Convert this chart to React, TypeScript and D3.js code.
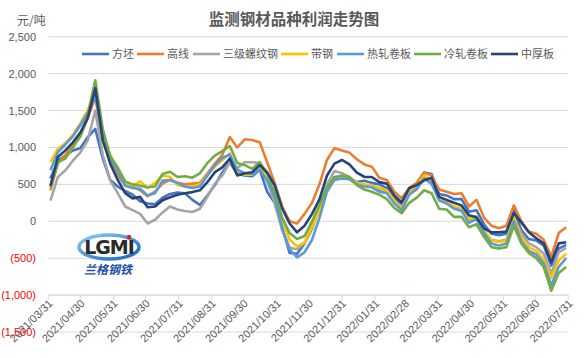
import React from "react";
import * as d3 from "d3";

const W = 587;
const H = 358;

const seriesNames = ["方坯", "高线", "三级螺纹钢", "带钢", "热轧卷板", "冷轧卷板", "中厚板"];
const seriesColors = ["#4472C4", "#ED7D31", "#A5A5A5", "#FFC000", "#5B9BD5", "#70AD47", "#264478"];

// weekly observations (Fridays) from 2021/04/02 to 2022/07/29
const firstDate = "2021-04-02";
const weekCount = 70;

const fangpi = [580, 820, 895, 960, 990, 1140, 1250, 850, 560, 470, 410, 360, 270, 240, 230, 320, 370, 390, 380, 290, 220, 350, 490, 660, 800, 640, 620, 610, 700, 400, 250, -80, -430, -440, -300, -100, 200, 450, 600, 610, 580, 530, 550, 520, 500, 450, 320, 230, 420, 500, 660, 640, 370, 350, 300, 300, 130, 150, -40, -170, -190, -170, 150, -120, -240, -260, -330, -600, -370, -320];
const gaoxian = [420, 785, 900, 1030, 1150, 1400, 1680, 1100, 820, 620, 490, 470, 420, 340, 400, 510, 560, 520, 500, 510, 520, 650, 780, 900, 1140, 1000, 1110, 1100, 1070, 800, 520, 200, 0, -30, 100, 250, 500, 830, 990, 960, 930, 840, 770, 740, 590, 560, 400, 310, 450, 520, 660, 620, 430, 400, 370, 380, 200, 290, 50, -60, -95, -60, 215, 0, -140, -170, -250, -480, -160, -80];
const luowengang = [280, 600, 690, 820, 930, 1100, 1500, 900, 550, 380, 200, 150, 100, -30, 20, 120, 200, 160, 140, 125, 170, 330, 510, 620, 800, 720, 800, 800, 790, 550, 250, -120, -360, -380, -290, -60, 200, 500, 680, 650, 600, 520, 490, 470, 430, 390, 260, 170, 370, 430, 580, 500, 300, 270, 190, 150, 20, 60, -140, -250, -270, -250, 40, -160, -300, -350, -440, -710, -420, -360];
const daigang = [800, 980, 1060, 1170, 1330, 1500, 1740, 1200, 900, 700, 520, 480, 540, 450, 520, 620, 600, 490, 470, 470, 500, 630, 740, 830, 920, 680, 630, 630, 740, 580, 350, 30, -250, -340, -290, -80, 150, 430, 580, 600, 570, 520, 500, 480, 450, 420, 280, 180, 400, 460, 620, 560, 300, 270, 200, 180, 30, 70, -120, -260, -280, -260, 50, -220, -350, -400, -520, -770, -530, -440];
const rezha = [690, 935, 1040, 1150, 1300, 1470, 1700, 1150, 850, 680, 480, 450, 440, 350, 380, 550, 560, 520, 470, 450, 470, 620, 760, 860, 900, 700, 650, 640, 700, 550, 330, -100, -380, -490, -420, -250, 50, 400, 560, 580, 570, 500, 470, 460, 400, 380, 240, 150, 360, 440, 580, 520, 280, 240, 170, 140, -20, 30, -160, -300, -330, -300, 0, -270, -400, -450, -570, -870, -620, -500];
const lengzha = [460, 800, 850, 1000, 1150, 1450, 1910, 1250, 880, 730, 540, 500, 480, 460, 470, 640, 670, 600, 610, 590, 650, 790, 890, 950, 1020, 790, 760, 710, 800, 650, 380, 50, -160, -240, -200, 0, 220, 450, 590, 620, 600, 490, 430, 400, 360, 300, 180, 110, 250, 320, 420, 380, 170, 160, 60, 60, -80, -40, -210, -350, -370, -350, -60, -300, -430, -500, -620, -940, -700, -620];
const zhonghouban = [480, 870, 960, 1070, 1200, 1400, 1800, 1100, 780, 560, 380, 310, 330, 190, 200, 285, 325, 360, 380, 395, 420, 530, 665, 730, 850, 620, 650, 665, 760, 660, 490, 175, -30, -150, -60, 100, 300, 620, 780, 830, 770, 660, 600, 600, 530, 510, 350, 255, 450, 490, 555, 590, 330, 290, 250, 215, 80, 55, -95, -150, -150, -140, 110, -15, -150, -230, -300, -555, -300, -285];

const seriesValues = [fangpi, gaoxian, luowengang, daigang, rezha, lengzha, zhonghouban];

const yTicks = [2500, 2000, 1500, 1000, 500, 0, -500, -1000, -1500];
const xTickLabels = [
  "2021/03/31", "2021/04/30", "2021/05/31", "2021/06/30", "2021/07/31", "2021/08/31",
  "2021/09/30", "2021/10/31", "2021/11/30", "2021/12/31", "2022/01/31", "2022/02/28",
  "2022/03/31", "2022/04/30", "2022/05/31", "2022/06/30", "2022/07/31",
];

const FONT = "'Noto Sans CJK SC', 'Open Sans', sans-serif";
const NUMFONT = "'Liberation Sans', 'Noto Sans CJK SC', sans-serif";
const TXT = "#595959";

function fmt(v: number) {
  const s = d3.format(",")(Math.abs(v));
  return v < 0 ? `(${s})` : s;
}

export default function App() {
  const parse = d3.timeParse("%Y/%m/%d");
  const iso = d3.timeParse("%Y-%m-%d");
  const start = iso(firstDate) as Date;
  const dates = d3.range(weekCount).map((i) => d3.timeDay.offset(start, 7 * i));
  const tickDates = xTickLabels.map((s) => parse(s) as Date);

  const left = 48.3;
  const right = 568.3;
  const x = d3.scaleTime().domain([tickDates[0], tickDates[tickDates.length - 1]]).range([left, right]);
  const y = d3.scaleLinear().domain([-1500, 2500]).range([332, 36.7]);
  const axisY = y(-1000);

  const line = d3
    .line<number>()
    .x((_, i) => x(dates[i]))
    .y((d) => y(d));

  const legendStarts = [82, 137, 193, 281, 337, 414, 491];

  return (
    <svg width={W} height={H} style={{ position: "absolute", left: 0, top: 0, background: "#fff" }} fontFamily={FONT}>
      <rect width={W} height={H} fill="#fff" />
      <text x={294} y={25} textAnchor="middle" fontSize={15.5} fontWeight="bold" fill={TXT}>
        监测钢材品种利润走势图
      </text>
      <text x={17} y={25} fontSize={12} fill={TXT}>
        元/吨
      </text>

      {yTicks.map((t) => (
        <g key={t}>
          <line x1={left} x2={right} y1={y(t)} y2={y(t)} stroke="#D9D9D9" strokeWidth={1} />
          <text x={36} y={y(t) + 4} textAnchor="end" fontSize={11} fontFamily={NUMFONT} fill={t < 0 ? "#FF0000" : TXT}>
            {fmt(t)}
          </text>
        </g>
      ))}

      <line x1={left} x2={right} y1={axisY} y2={axisY} stroke="#D9D9D9" strokeWidth={1} />
      {tickDates.map((d, i) => (
        <g key={i}>
          <line x1={x(d)} x2={x(d)} y1={axisY} y2={axisY + 5} stroke="#D9D9D9" strokeWidth={1} />
          <text
            transform={`translate(${x(d) + 5},${axisY + 9}) rotate(-45)`}
            textAnchor="end"
            fontSize={11}
            fontFamily={NUMFONT}
            fill={TXT}
          >
            {xTickLabels[i]}
          </text>
        </g>
      ))}

      <g>
        <defs>
          <linearGradient id="lg" x1="0" x2="1" y1="0" y2="1">
            <stop offset="0" stopColor="#8ec9f0" />
            <stop offset="1" stopColor="#1565c0" />
          </linearGradient>
        </defs>
        <ellipse cx={109} cy={247} rx={30} ry={12} fill="none" stroke="url(#lg)" strokeWidth={3.5} />
        <text x={109} y={254} textAnchor="middle" fontSize={19} fontWeight="bold" fill="#2b2b2b" fontFamily="'DejaVu Sans', sans-serif" letterSpacing={-1}>
          LGMI
        </text>
        <circle cx={129} cy={237} r={2.2} fill="#e02020" />
        <text x={108} y={274} textAnchor="middle" fontSize={12} fontWeight="bold" fontStyle="italic" fill="#1f4fa8">
          兰格钢铁
        </text>
      </g>

      {seriesValues.map((vals, k) => (
        <path key={k} d={line(vals) || ""} fill="none" stroke={seriesColors[k]} strokeWidth={2.6} strokeLinejoin="round" />
      ))}

      {seriesNames.map((n, k) => (
        <g key={n} transform={`translate(${legendStarts[k]},54)`}>
          <line x1={0} x2={27} y1={0} y2={0} stroke={seriesColors[k]} strokeWidth={2.6} />
          <text x={30} y={4} fontSize={11} fill={TXT}>
            {n}
          </text>
        </g>
      ))}
    </svg>
  );
}
